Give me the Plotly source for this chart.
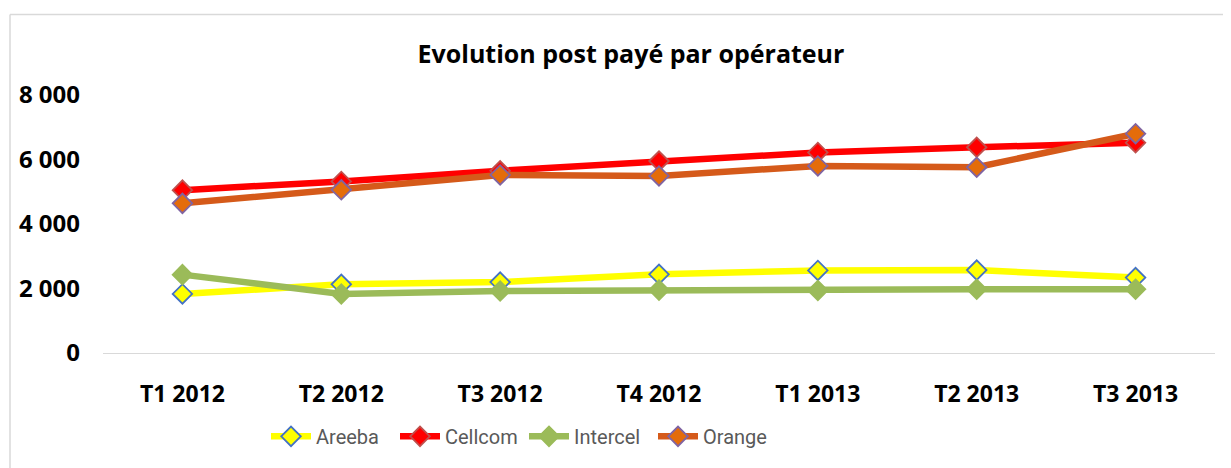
import plotly.graph_objects as go

categories = ["T1 2012", "T2 2012", "T3 2012", "T4 2012", "T1 2013", "T2 2013", "T3 2013"]
areeba = [1830, 2130, 2200, 2440, 2560, 2570, 2340]
cellcom = [5050, 5320, 5650, 5950, 6220, 6380, 6520]
intercel = [2430, 1830, 1920, 1950, 1940, 1980, 1980]
orange = [4640, 5060, 5520, 5490, 5800, 5760, 6800]
y_ticks = [0, 2000, 4000, 6000, 8000]
y_tick_labels = ["0", "2 000", "4 000", "6 000", "8 000"]

series = [
    ("Areeba", areeba, "#FFFF00", "#FFFF00", "#4472C4"),
    ("Cellcom", cellcom, "#FF0000", "#FF0000", "#C0504D"),
    ("Intercel", intercel, "#9BBB59", "#9BBB59", "#9BBB59"),
    ("Orange", orange, "#D55A1A", "#E46C0A", "#8064A2"),
]

fig = go.Figure()
for name, vals, lc, fc, bc in series:
    fig.add_trace(go.Scatter(
        x=categories, y=vals, name=name, mode="lines+markers",
        line=dict(color=lc, width=6.5),
        marker=dict(symbol="diamond", size=15, color=fc, line=dict(color=bc, width=1.8)),
    ))

# page body has an 8px margin: work in page coords then shift
OFF = 8
W, H = 1231 - OFF, 468 - OFF
L, T = 103 - OFF, 95 - OFF
R = W - (1215 - OFF)
B = H - (355 - OFF)
pw, ph = W - L - R, H - T - B

def px_x(px):
    return (px - OFF - L) / pw

def px_y(py):
    return (H - B - (py - OFF)) / ph

fig.update_layout(
    width=W, height=H,
    margin=dict(l=L, r=R, t=T, b=B),
    paper_bgcolor="white", plot_bgcolor="white",
    title=dict(text="<b>Evolution post payé par opérateur</b>", x=px_x(631), xref="paper",
               y=1 - (54 - OFF) / H, yanchor="middle", xanchor="center",
               font=dict(family="Open Sans", size=25, color="black")),
    xaxis=dict(showgrid=False, showline=True, linecolor="#D9D9D9", linewidth=1.2,
               ticks="", tickfont=dict(family="Open Sans", size=23, color="black", weight="bold"),
               ticklabelstandoff=20, range=[-0.5, 6.5], zeroline=False),
    yaxis=dict(range=[0, 8000], tickvals=y_ticks, ticktext=y_tick_labels, showgrid=False,
               zeroline=False, showline=False, ticks="",
               tickfont=dict(family="Open Sans", size=24, color="black", weight="bold"),
               ticklabelstandoff=22),
    legend=dict(orientation="h", x=px_x(266), xanchor="left", y=px_y(439),
                yanchor="middle", font=dict(family="Roboto", size=20, color="#595959"),
                itemwidth=40, entrywidth=74, bgcolor="rgba(0,0,0,0)"),
    showlegend=True,
    shapes=[
        dict(type="line", xref="paper", yref="paper", x0=px_x(10), x1=px_x(10),
             y0=px_y(14), y1=-2, line=dict(color="#D9D9D9", width=1.5)),
        dict(type="line", xref="paper", yref="paper", x0=px_x(10), x1=2,
             y0=px_y(14), y1=px_y(14), line=dict(color="#D9D9D9", width=1.5)),
    ],
)

fig.write_html("out.html")
